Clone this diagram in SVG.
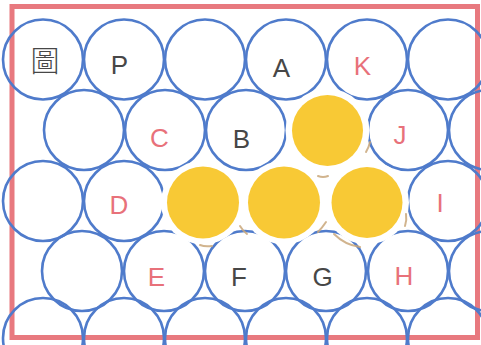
<svg xmlns="http://www.w3.org/2000/svg" width="481" height="345" viewBox="0 0 481 345">
<style>
.c{fill:none;stroke:#4f7bcb;stroke-width:2.6}
.y{fill:#f8c935}
.h{fill:#fff}
.t{font-family:"Liberation Sans",Arial,sans-serif;font-size:26px;text-anchor:middle}
.k{fill:#474747}
.p{fill:#e8717a}
.tan{fill:none;stroke:#c9a77a;stroke-width:2;stroke-linecap:round;opacity:0.85}
</style>
<rect width="481" height="345" fill="#fff"/>
<g id="frame"><rect x="12" y="6.5" width="465.5" height="331" fill="none" stroke="#e8797f" stroke-width="5"/></g>
<g id="circles">
<circle class="c" cx="43" cy="59.5" r="40"/>
<circle class="c" cx="124" cy="59.5" r="40"/>
<circle class="c" cx="205" cy="59.5" r="40"/>
<circle class="c" cx="286" cy="59.5" r="40"/>
<circle class="c" cx="367" cy="59.5" r="40"/>
<circle class="c" cx="448" cy="59.5" r="40"/>
<circle class="c" cx="84" cy="130" r="40"/>
<circle class="c" cx="165" cy="130" r="40"/>
<circle class="c" cx="246" cy="130" r="40"/>
<circle class="c" cx="408" cy="130" r="40"/>
<circle class="c" cx="489" cy="130" r="40"/>
<circle class="c" cx="43" cy="201" r="40"/>
<circle class="c" cx="124" cy="201" r="40"/>
<circle class="c" cx="448" cy="201" r="40"/>
<circle class="c" cx="82" cy="271" r="40"/>
<circle class="c" cx="164" cy="271" r="40"/>
<circle class="c" cx="245" cy="271" r="40"/>
<circle class="c" cx="326" cy="271" r="40"/>
<circle class="c" cx="408" cy="271" r="40"/>
<circle class="c" cx="489" cy="271" r="40"/>
<circle class="c" cx="43" cy="338" r="40"/>
<circle class="c" cx="124" cy="338" r="40"/>
<circle class="c" cx="205" cy="338" r="40"/>
<circle class="c" cx="286" cy="338" r="40"/>
<circle class="c" cx="367" cy="338" r="40"/>
<circle class="c" cx="448" cy="338" r="40"/>
</g>
<g id="halos">
<circle class="h" cx="327.5" cy="130.5" r="42"/>
<circle class="h" cx="203" cy="202.5" r="42"/>
<circle class="h" cx="284" cy="202.5" r="42"/>
<circle class="h" cx="367" cy="202.5" r="42"/>
</g>
<g id="traces">
<path class="tan" d="M240 226 Q243 231 247 234"/>
<path class="tan" d="M318 176 Q323 178 328 176"/>
<path class="tan" d="M366 152 Q369 147 370 142"/>
<path class="tan" d="M406 214 Q407 220 405 226"/>
<path class="tan" d="M334 234 Q345 245 360 247"/>
<path class="tan" d="M326 222 Q322 228 318 232"/>
<path class="tan" d="M200 245 Q205 247 212 246"/>
</g>
<g id="yellow">
<circle class="y" cx="327.5" cy="130.5" r="35.5"/>
<circle class="y" cx="203" cy="202.5" r="36"/>
<circle class="y" cx="284" cy="202.5" r="36"/>
<circle class="y" cx="367" cy="202.5" r="35.5"/>
</g>
<g id="labels">
<text class="t k" x="45" y="72" style="font-family:'Noto Sans CJK TC','Noto Sans CJK SC',sans-serif;font-size:29px;font-weight:300">圖</text>
<text class="t k" x="119.5" y="74">P</text>
<text class="t k" x="281.5" y="77">A</text>
<text class="t p" x="362.5" y="75">K</text>
<text class="t p" x="159.5" y="147">C</text>
<text class="t k" x="241.5" y="148">B</text>
<text class="t p" x="400" y="144">J</text>
<text class="t p" x="119" y="214">D</text>
<text class="t p" x="440" y="212">I</text>
<text class="t p" x="156.5" y="286">E</text>
<text class="t k" x="239" y="286">F</text>
<text class="t k" x="322.5" y="286">G</text>
<text class="t p" x="404" y="285">H</text>
</g>
</svg>
